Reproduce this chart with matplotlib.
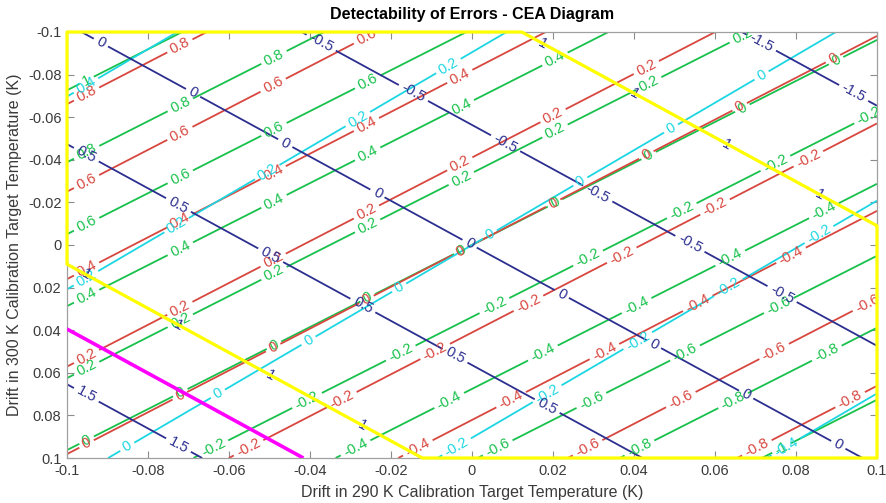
import numpy as np
import matplotlib
matplotlib.use('Agg')
import matplotlib.pyplot as plt
from matplotlib.ticker import FuncFormatter

plt.rcParams['font.family'] = ['Liberation Sans', 'DejaVu Sans']

# drift range of both calibration targets (K)
drift_lim = [-0.1, 0.1]
tick_vals = [-0.1, -0.08, -0.06, -0.04, -0.02, 0, 0.02, 0.04, 0.06, 0.08, 0.1]

# every error term is linear in the two drifts: q = g290 * dT290 + g300 * dT300
blue_gain = [-9.20, 8.87]
cyan_gain = [-2.46, -2.21]
red_gain = [-4.78, -4.87]
green_gain = [-5.70, -5.92]

blue_levels = [-1.5, -1.0, -0.5, 0.0, 0.5, 1.0, 1.5]
cyan_levels = [-0.4, -0.2, 0.0, 0.2, 0.4]
red_levels = [-0.8, -0.6, -0.4, -0.2, 0.0, 0.2, 0.4, 0.6, 0.8]
green_levels = [-1.0, -0.8, -0.6, -0.4, -0.2, 0.0, 0.2, 0.4, 0.6, 0.8, 1.0]

detect_limit = 1.0     # |blue| below this is the detectable band
magenta_level = 1.27

col_blue = '#2c2f90'
col_cyan = '#1dd6e2'
col_red = '#d8473f'
col_green = '#18c14c'


def fmt(v):
    v = round(v, 3)
    return '0' if v == 0 else '%g' % v


def label_spots(ax, gain, level, spacing=105, start=22):
    # walk along the straight contour in screen pixels, one label every `spacing`
    xs = np.linspace(drift_lim[0], drift_lim[1], 2001)
    ys = (level - gain[0] * xs) / gain[1]
    keep = (ys >= drift_lim[0]) & (ys <= drift_lim[1])
    if keep.sum() < 2:
        return []
    pts = np.column_stack([xs[keep], ys[keep]])
    disp = ax.transData.transform(pts)
    arc = np.concatenate([[0], np.cumsum(np.hypot(*np.diff(disp, axis=0).T))])
    spots = []
    for t in np.arange(start, arc[-1] - 8, spacing):
        spots.append((np.interp(t, arc, pts[:, 0]), np.interp(t, arc, pts[:, 1])))
    return spots


fig = plt.figure(figsize=(8.87, 5.03), dpi=100)
ax = fig.add_axes([67 / 887, 45 / 503, 810 / 887, 426 / 503])
ax.set_xlim(drift_lim)
ax.set_ylim(drift_lim[1], drift_lim[0])

g = np.linspace(drift_lim[0], drift_lim[1], 401)
X, Y = np.meshgrid(g, g)

families = [(green_gain, green_levels, col_green),
            (red_gain, red_levels, col_red),
            (cyan_gain, cyan_levels, col_cyan),
            (blue_gain, blue_levels, col_blue)]

for gain, levels, color in families:
    F = gain[0] * X + gain[1] * Y
    cs = ax.contour(X, Y, F, levels=levels, colors=color, linewidths=1.3,
                    linestyles='solid')
    spots = []
    for lev in levels:
        spots += label_spots(ax, gain, lev)
    ax.clabel(cs, levels, manual=spots, inline=True, inline_spacing=4,
              fontsize=10.5, fmt=fmt)

# magenta threshold line
B = blue_gain[0] * X + blue_gain[1] * Y
ax.contour(X, Y, B, levels=[magenta_level], colors='#ff00ff', linewidths=2.6, zorder=4)

# yellow outline of the |blue| <= limit region, traced along the frame too
ge = np.linspace(drift_lim[0] * 1.04, drift_lim[1] * 1.04, 1041)
XE, YE = np.meshgrid(ge, ge)
BE = np.abs(blue_gain[0] * XE + blue_gain[1] * YE) / detect_limit
G = np.maximum(BE, np.maximum(np.abs(XE), np.abs(YE)) / drift_lim[1])
ys = ax.contour(XE, YE, G, levels=[1.0], colors='#ffff00', linewidths=2.3, zorder=5)
ys.set_clip_on(False)

ax.set_xticks(tick_vals)
ax.set_yticks(tick_vals)
ax.xaxis.set_major_formatter(FuncFormatter(lambda v, p: fmt(v)))
ax.yaxis.set_major_formatter(FuncFormatter(lambda v, p: fmt(v)))
ax.tick_params(direction='in', top=True, right=True, length=5, width=0.8,
               color='#8c8c8c', labelsize=10.5, labelcolor='#3a3a3a', pad=4)
for sp in ax.spines.values():
    sp.set_color('#a0a0a0')
    sp.set_linewidth(0.9)

ax.set_title('Detectability of Errors - CEA Diagram', fontsize=11.5,
             fontweight='bold', pad=9)
ax.set_xlabel('Drift in 290 K Calibration Target Temperature (K)',
              fontsize=11.5, color='#3a3a3a', labelpad=5)
ax.set_ylabel('Drift in 300 K Calibration Target Temperature (K)',
              fontsize=11.5, color='#3a3a3a', labelpad=4)

fig.savefig('out.png', dpi=100)
